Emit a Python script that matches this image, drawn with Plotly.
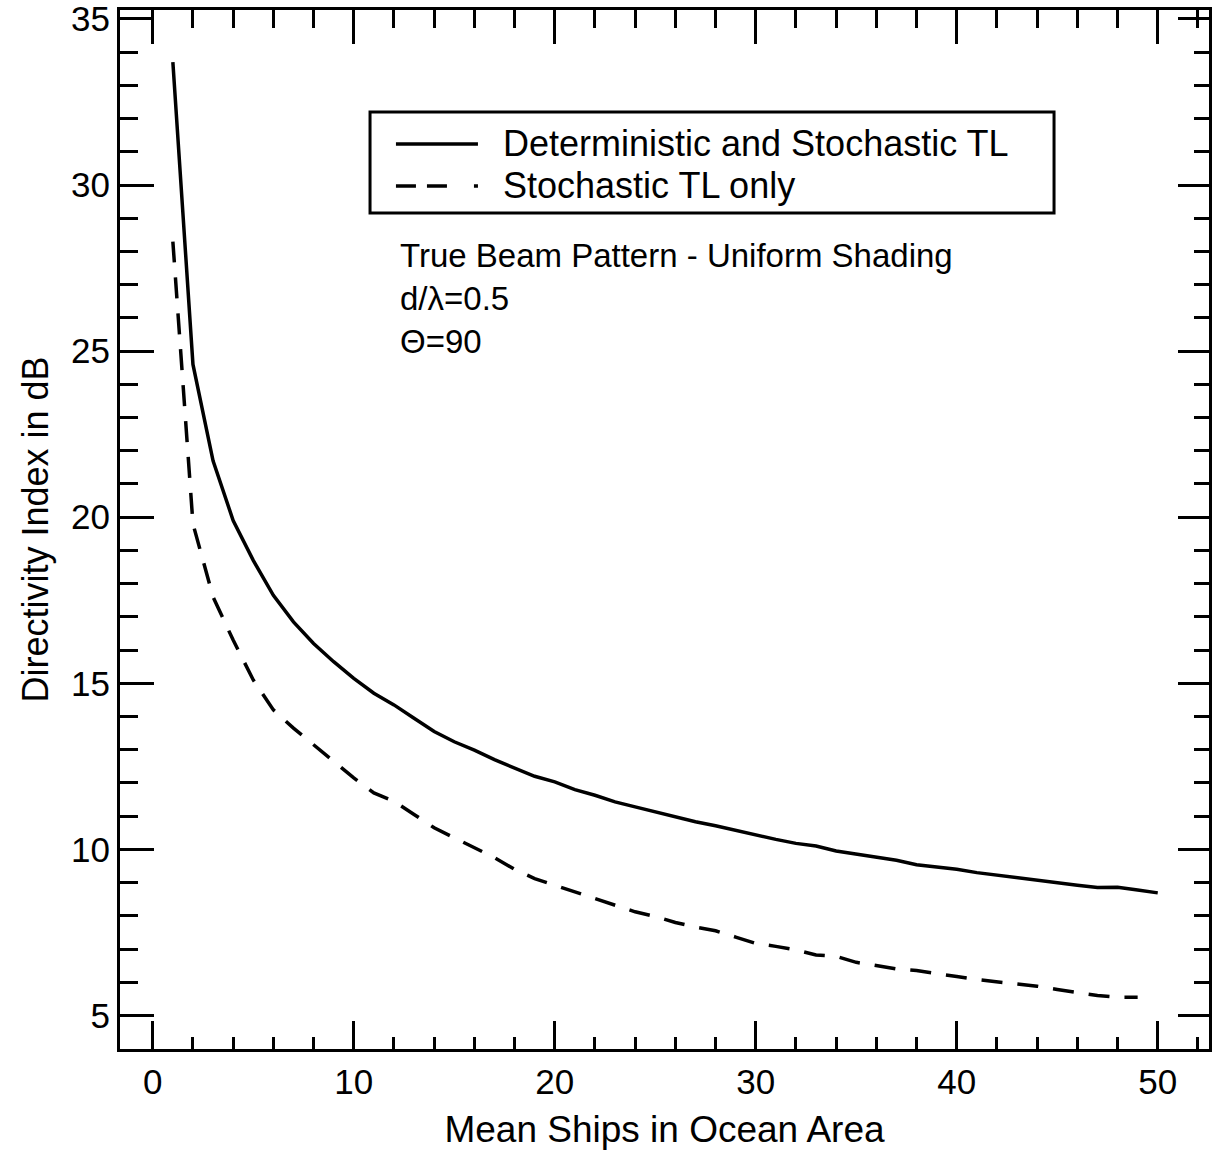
import plotly.graph_objects as go

# Mean ships in ocean area
ships = list(range(1, 51))
ships_stoch = list(range(1, 50))

# Directivity index (dB), deterministic + stochastic TL
di_det_stoch = [
    33.7, 24.6, 21.7, 19.9, 18.7, 17.65, 16.85, 16.2, 15.65, 15.15,
    14.7, 14.35, 13.95, 13.55, 13.24, 12.99, 12.7, 12.45, 12.2, 12.03,
    11.8, 11.63, 11.43, 11.28, 11.13, 10.98, 10.83, 10.71, 10.57, 10.43,
    10.3, 10.18, 10.1, 9.95, 9.85, 9.77, 9.67, 9.54, 9.47, 9.4,
    9.3, 9.22, 9.14, 9.07, 8.99, 8.92, 8.85, 8.86, 8.78, 8.69,
]

# Directivity index (dB), stochastic TL only
di_stoch = [
    28.3, 19.8, 17.6, 16.3, 15.1, 14.2, 13.65, 13.15, 12.65, 12.15,
    11.7, 11.45, 11.05, 10.65, 10.35, 10.05, 9.75, 9.4, 9.12, 8.92,
    8.72, 8.53, 8.32, 8.12, 7.98, 7.8, 7.66, 7.55, 7.36, 7.17,
    7.08, 6.97, 6.82, 6.78, 6.6, 6.5, 6.4, 6.35, 6.25, 6.17,
    6.08, 6.02, 5.95, 5.88, 5.78, 5.7, 5.6, 5.55, 5.55,
]

names = ["Deterministic and Stochastic TL", "Stochastic TL only"]
dashes = ["solid", "21px,15px"]
legend_dashes = ["solid", "20px,11px,20px,27px,5px"]
note = "True Beam Pattern - Uniform Shading<br>d/λ=0.5<br>Θ=90"

FONT = "Liberation Sans, Arial, Helvetica, sans-serif"

fig = go.Figure()
fig.add_trace(go.Scatter(x=ships, y=di_det_stoch, mode="lines", name=names[0],
                         line=dict(color="black", width=3.5, dash=dashes[0])))
fig.add_trace(go.Scatter(x=ships_stoch, y=di_stoch, mode="lines", name=names[1],
                         line=dict(color="black", width=3.5, dash=dashes[1])))
# empty trace so the top/right tick axes get drawn
fig.add_trace(go.Scatter(x=[], y=[], xaxis="x2", yaxis="y2", showlegend=False))

# hand-made legend box
lx0, lx1, ly0, ly1 = 0.2296, 0.8577, 0.8047, 0.9019
fig.add_shape(type="rect", xref="paper", yref="paper", x0=lx0, x1=lx1, y0=ly0, y1=ly1,
              line=dict(color="black", width=3), fillcolor="white")
for name, dash, yy in zip(names, legend_dashes, [0.8711, 0.8307]):
    fig.add_shape(type="line", xref="paper", yref="paper", x0=0.2534, x1=0.3287, y0=yy, y1=yy,
                  line=dict(color="black", width=3.5, dash=dash))
    fig.add_annotation(xref="paper", yref="paper", x=0.3500, y=yy, text=name, showarrow=False,
                       xanchor="left", yanchor="middle", font=dict(family=FONT, size=36, color="black"))

fig.add_annotation(xref="paper", yref="paper", x=0.255, y=0.722, text=note, showarrow=False,
                   xanchor="left", yanchor="middle", align="left",
                   font=dict(family=FONT, size=33, color="black"))

xr = [-1.63, 52.55]
yr = [3.99, 35.27]
common = dict(showgrid=False, zeroline=False, showline=True, linecolor="black", linewidth=3,
              ticks="inside", tickcolor="black", tickwidth=3, automargin=False)

fig.update_layout(
    width=1219, height=1154,
    margin=dict(l=120, r=10, t=10, b=105),
    paper_bgcolor="white", plot_bgcolor="white",
    showlegend=False,
    font=dict(family=FONT, color="black"),
    xaxis=dict(range=xr, tick0=0, dtick=10, ticklen=28,
               minor=dict(dtick=2, ticks="inside", ticklen=12, tickwidth=3, tickcolor="black"),
               tickfont=dict(size=35), ticklabeloverflow="allow",
               title=dict(text="Mean Ships in Ocean Area", font=dict(size=37), standoff=17),
               **common),
    xaxis2=dict(range=xr, overlaying="x", side="top", anchor="y", tick0=0, dtick=10, ticklen=34,
                minor=dict(dtick=2, ticks="inside", ticklen=18, tickwidth=3, tickcolor="black"),
                showticklabels=False, **common),
    yaxis=dict(range=yr, tick0=0, dtick=5, ticklen=34,
               minor=dict(dtick=1, ticks="inside", ticklen=18, tickwidth=3, tickcolor="black"),
               tickfont=dict(size=35), ticklabeloverflow="allow",
               title=dict(text="Directivity Index in dB", font=dict(size=36), standoff=12),
               **common),
    yaxis2=dict(range=yr, overlaying="y", side="right", anchor="x", tick0=0, dtick=5, ticklen=31,
                minor=dict(dtick=1, ticks="inside", ticklen=15, tickwidth=3, tickcolor="black"),
                showticklabels=False, **common),
)

# drop the browser's default body margin so the figure sits at the page corner
fig.write_html("out.html", config={"displayModeBar": False},
               post_script="document.body.style.margin='0px';")
